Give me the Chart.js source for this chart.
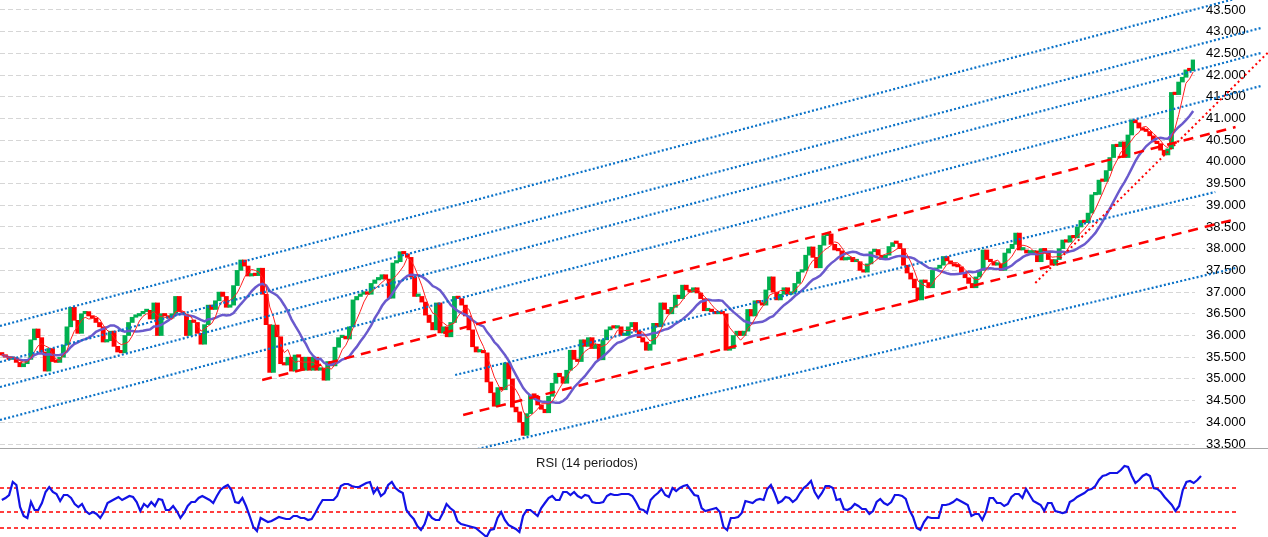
<!DOCTYPE html>
<html>
<head>
<meta charset="utf-8">
<script src="https://cdn.jsdelivr.net/npm/chart.js@4.4.1/dist/chart.umd.min.js"></script>
<style>
  html, body { margin: 0; padding: 0; background: #ffffff; }
  #wrap { position: relative; width: 1268px; height: 537px; overflow: hidden; background: #fff; }
  #mainBox { position: absolute; left: 0; top: 0; width: 1268px; height: 448px; border-bottom: 1px solid #a6a6a6; }
  #rsiBox { position: absolute; left: 0; top: 449px; width: 1236px; height: 88px; }
  #rsiTitle { position: absolute; left: 0; top: 455px; width: 1174px; text-align: center;
              font-family: "Liberation Sans", Arial, sans-serif; font-size: 13px; color: #1a1a1a; }
</style>
</head>
<body>
<div id="wrap">
  <div id="mainBox"><canvas id="main" width="1268" height="448"></canvas></div>
  <div id="rsiBox"><canvas id="rsi" width="1236" height="88"></canvas></div>
  <div id="rsiTitle">RSI (14 periodos)</div>
</div>
<script>
// ---------------- DATA ----------------
const firstOpen = 35.6;
const closes = [
  35.55,35.5,35.45,35.48,35.38,35.28,35.35,35.45,35.9,36.15,
  35.95,35.62,35.18,35.7,35.4,35.38,35.5,35.78,36.2,36.65,
  36.35,36.05,36.5,36.55,36.45,36.4,36.3,36.2,35.85,35.88,
  36.1,35.75,35.62,35.6,36.0,36.3,36.42,36.45,36.5,36.55,
  36.58,36.38,36.75,36.0,36.5,36.45,36.4,36.5,36.9,36.55,
  36.48,36.0,36.35,36.3,36.05,35.8,36.25,36.7,36.6,36.8,
  37.0,36.9,36.65,36.7,37.15,37.5,37.74,37.6,37.37,37.4,
  37.38,37.55,36.95,36.25,35.15,36.24,35.97,35.35,35.32,35.5,
  35.18,35.55,35.5,35.2,35.5,35.2,35.5,35.2,35.25,34.97,
  35.4,35.3,35.73,35.95,35.98,35.92,36.2,36.82,36.9,36.95,
  37.0,36.95,37.2,37.28,37.3,37.4,37.3,36.86,37.67,37.7,
  37.93,37.88,37.8,37.35,36.9,36.9,36.77,36.47,36.3,36.13,
  36.75,36.06,36.2,35.97,36.3,36.9,36.85,36.7,36.45,36.13,
  35.74,35.62,35.65,35.6,34.93,34.68,34.37,34.8,34.75,35.37,
  35.0,34.35,34.24,34.0,33.7,34.2,34.63,34.6,34.4,34.3,
  34.22,34.6,34.9,35.13,35.05,34.9,35.2,35.66,35.45,35.4,
  35.9,35.75,35.95,35.7,35.8,35.44,35.9,36.13,36.2,36.17,
  36.2,36.0,36.0,36.2,36.3,36.1,35.95,35.85,35.66,35.8,
  36.28,36.2,36.75,36.6,36.5,36.65,36.93,36.85,37.16,37.05,
  37.0,37.1,36.98,36.85,36.57,36.6,36.55,36.5,36.55,36.5,
  35.66,35.7,36.0,36.1,36.0,36.1,36.6,36.45,36.8,36.75,
  36.7,37.05,37.35,37.0,36.82,36.95,37.1,36.95,37.0,37.2,
  37.46,37.5,37.85,38.04,37.8,37.56,38.08,38.3,38.34,38.1,
  37.97,37.95,37.74,37.75,37.8,37.7,37.7,37.5,37.46,37.65,
  37.93,37.98,37.85,37.75,37.85,38.05,38.14,38.12,38.0,37.62,
  37.44,37.3,37.1,36.82,37.28,37.22,37.1,37.5,37.55,37.62,
  37.82,37.72,37.65,37.6,37.58,37.45,37.33,37.2,37.1,37.35,
  37.5,37.97,37.75,37.7,37.62,37.65,37.5,37.9,38.0,38.1,
  38.36,37.97,37.97,37.9,37.9,37.95,37.7,38.0,37.95,37.75,
  37.62,37.75,38.0,38.2,38.15,38.3,38.25,38.5,38.65,38.6,
  38.82,39.24,39.25,39.58,39.55,39.8,40.1,40.4,40.35,40.46,
  40.1,40.62,40.97,40.9,40.78,40.73,40.7,40.6,40.46,40.42,
  40.27,40.16,40.3,41.6,41.55,41.84,41.95,42.12,42.1,42.35
];
const priceTicks = [33.5,34,34.5,35,35.5,36,36.5,37,37.5,38,38.5,39,39.5,40,40.5,41,41.5,42,42.5,43,43.5];
const fastPeriod = 5;
const slowPeriod = 14;

const rsiValues = [
  58,60,63,76,73,51,42,40,56,48,
  48,55,66,71,66,64,57,63,63,60,
  54,51,54,47,44,46,44,40,46,55,
  57,59,61,58,60,62,61,56,47,54,
  51,56,52,59,58,48,48,52,47,40,
  45,52,56,56,60,62,60,58,55,62,
  68,71,73,68,56,55,60,52,42,31,
  27,40,38,36,37,39,41,40,39,39,
  42,42,40,40,38,39,45,52,58,58,
  58,58,62,72,74,74,72,71,71,73,
  75,76,65,70,62,65,73,76,70,67,
  65,48,43,39,32,28,34,45,40,38,
  38,45,54,50,47,37,34,33,32,31,
  30,27,24,21,28,29,40,46,38,33,
  31,29,26,42,48,48,45,42,50,55,
  60,62,58,58,66,66,63,66,62,60,
  63,62,56,55,55,56,62,64,63,63,
  64,64,64,62,56,49,48,45,58,62,
  65,69,63,61,70,67,70,72,73,68,
  63,62,50,47,48,49,50,46,31,28,
  40,40,41,45,57,56,55,58,59,58,
  69,73,65,55,57,61,60,56,59,65,
  70,73,77,66,60,65,72,72,70,58,
  59,49,48,50,54,52,49,49,44,47,
  56,59,55,53,56,63,63,62,59,48,
  41,30,28,36,41,40,40,40,53,53,
  54,56,59,57,55,53,42,44,44,38,
  46,60,60,55,55,52,54,61,64,64,
  60,69,63,57,55,53,47,55,55,47,
  46,45,46,56,58,61,63,65,68,69,
  72,78,82,83,85,85,85,88,92,91,
  82,75,78,82,84,82,70,69,66,61,
  57,53,47,52,68,76,77,75,78,82
];
const rsiLevels = [70, 46, 30];

// trend lines: [startIndex, startPrice, endIndex, endPrice]
const blueChannels = [
  [-0.5, 36.219, 348.1, 43.924],
  [-0.5, 35.389, 348.1, 43.094],
  [-0.5, 34.813, 348.1, 42.518],
  [-0.5, 34.053, 348.1, 41.758],
  [125.2, 35.090, 335.1, 39.306],
  [128.0, 33.316, 340.7, 37.555]
];
const redDashedLines = [
  [71.9, 34.975, 340.7, 40.804],
  [127.4, 34.168, 339.8, 38.661]
];
const redDottedLines = [
  [285.4, 37.210, 349.8, 42.532]
];

// ---------------- DERIVED ----------------
const opens = closes.map((c, i) => i === 0 ? firstOpen : closes[i - 1]);
function sma(arr, n) {
  return arr.map((_, i) => {
    const s = arr.slice(Math.max(0, i - n + 1), i + 1);
    return s.reduce((a, b) => a + b, 0) / s.length;
  });
}
const fastMA = sma(closes, fastPeriod);
const slowMA = sma(closes, slowPeriod);

const GREEN = '#00b050', RED = '#ff0000';
const candleData = closes.map((c, i) => ({ x: i, y: [opens[i], c] }));

function segDataset(seg, color, width, dash) {
  return {
    type: 'line',
    data: [{ x: seg[0], y: seg[1] }, { x: seg[2], y: seg[3] }],
    borderColor: color, borderWidth: width, borderDash: dash,
    pointRadius: 0, fill: false, clip: false, order: 1, tension: 0
  };
}

const datasets = [
  {
    type: 'bar',
    data: candleData,
    backgroundColor: ctx => (closes[ctx.dataIndex] >= opens[ctx.dataIndex] ? GREEN : RED),
    borderWidth: 0,
    barThickness: 4.2,
    minBarLength: 2.5,
    order: 5
  },
  {
    type: 'line',
    data: slowMA.map((v, i) => ({ x: i, y: v })),
    borderColor: '#6a5acd', borderWidth: 2.5, pointRadius: 0, fill: false, order: 3, tension: 0
  },
  {
    type: 'line',
    data: fastMA.map((v, i) => ({ x: i, y: v })),
    borderColor: '#ff2020', borderWidth: 1, pointRadius: 0, fill: false, order: 2, tension: 0
  }
];
blueChannels.forEach(s => datasets.push(segDataset(s, '#0a72c8', 2.2, [2, 2.2])));
redDashedLines.forEach(s => datasets.push(segDataset(s, '#ff0000', 2.5, [10, 7])));
redDottedLines.forEach(s => datasets.push(segDataset(s, '#ff0000', 2, [2, 3])));

new Chart(document.getElementById('main'), {
  type: 'bar',
  data: { datasets },
  options: {
    responsive: false,
    animation: false,
    events: [],
    layout: { padding: 0 },
    plugins: { legend: { display: false }, tooltip: { enabled: false }, title: { display: false } },
    scales: {
      x: { type: 'linear', min: -0.5, max: closes.length - 0.5, offset: false, display: false },
      y: {
        position: 'right',
        min: 33.408, max: 43.730,
        afterBuildTicks: s => { s.ticks = priceTicks.map(v => ({ value: v })); },
        afterFit: s => { s.width = 73; s.paddingTop = 0; s.paddingBottom = 0; },
        grid: { color: '#d6d6d6', lineWidth: 1, drawTicks: false },
        border: { display: false, dash: [5, 3] },
        ticks: {
          padding: 11, color: '#000000',
          font: { family: 'Liberation Sans', size: 13 },
          callback: v => Number(v).toFixed(3)
        }
      }
    }
  }
});

// ---------------- RSI ----------------
const rsiXmax = 338.6;
const rsiSets = [
  {
    data: rsiValues.map((v, i) => ({ x: i, y: v })),
    borderColor: '#1212e6', borderWidth: 2.2, pointRadius: 0, fill: false, tension: 0, order: 1
  }
];
rsiLevels.forEach(l => rsiSets.push({
  data: [{ x: -0.5, y: l }, { x: rsiXmax, y: l }],
  borderColor: '#ff0000', borderWidth: 1.3, borderDash: [4, 3],
  pointRadius: 0, fill: false, order: 2
}));

new Chart(document.getElementById('rsi'), {
  type: 'line',
  data: { datasets: rsiSets },
  options: {
    responsive: false,
    animation: false,
    events: [],
    layout: { padding: 0 },
    plugins: { legend: { display: false }, tooltip: { enabled: false } },
    scales: {
      x: { type: 'linear', min: -0.5, max: rsiXmax, display: false },
      y: { min: 21, max: 109, display: false }
    }
  }
});
</script>
</body>
</html>
